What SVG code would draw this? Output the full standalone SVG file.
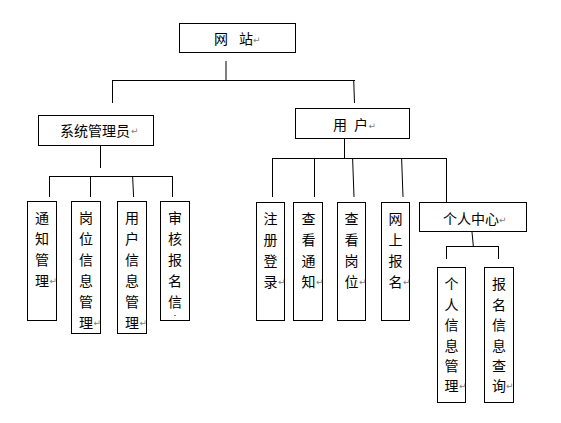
<svg xmlns="http://www.w3.org/2000/svg" width="561" height="423" viewBox="0 0 561 423">
<style>
.box{fill:#fff;stroke:#000;stroke-width:1}
.ln{stroke:#000;stroke-width:1;fill:none}
.t{font-family:"Noto Sans CJK SC","Noto Sans CJK JP",sans-serif;font-size:14px;fill:#000}
.v{text-anchor:middle}
.r{font-family:"DejaVu Sans",sans-serif;font-size:9px;fill:#808080}
</style>
<defs>
<clipPath id="clipAudit"><rect x="160" y="201" width="30" height="115"/></clipPath>
</defs>
<rect width="561" height="423" fill="#fff"/>
<g id="connectors">
<line class="ln" x1="226" y1="61" x2="226" y2="80"/>
<line class="ln" x1="112" y1="80.5" x2="355" y2="80.5"/>
<line class="ln" x1="112.5" y1="80" x2="112.5" y2="103"/>
<line class="ln" x1="353.7" y1="80" x2="354.5" y2="103"/>
<line class="ln" x1="100.5" y1="146" x2="100.5" y2="168"/>
<line class="ln" x1="49" y1="176.5" x2="173" y2="176.5"/>
<line class="ln" x1="49.5" y1="176" x2="49.5" y2="197"/>
<line class="ln" x1="90.5" y1="176" x2="90.5" y2="197"/>
<line class="ln" x1="132.6" y1="176" x2="133.6" y2="197"/>
<line class="ln" x1="172.5" y1="176" x2="172.5" y2="197"/>
<line class="ln" x1="344.5" y1="138" x2="344.5" y2="158"/>
<line class="ln" x1="272" y1="158.5" x2="447" y2="158.5"/>
<line class="ln" x1="272.5" y1="158" x2="272.5" y2="197"/>
<line class="ln" x1="314.5" y1="158" x2="314.5" y2="197"/>
<line class="ln" x1="352.6" y1="158" x2="354" y2="197"/>
<line class="ln" x1="401.6" y1="158" x2="403" y2="197"/>
<line class="ln" x1="446.5" y1="158" x2="446.5" y2="202"/>
<line class="ln" x1="472" y1="232" x2="473.3" y2="246"/>
<line class="ln" x1="446" y1="246.5" x2="499" y2="246.5"/>
<line class="ln" x1="446.5" y1="246" x2="446.5" y2="259"/>
<line class="ln" x1="498.5" y1="246" x2="498.5" y2="259"/>
</g>
<g id="site">
<rect class="box" x="179.5" y="23.5" width="116" height="29"/>
<text class="t" y="44"><tspan x="214">网</tspan><tspan x="239">站</tspan></text>
<text class="r" x="253" y="43">↵</text>
</g>
<g id="admin">
<rect class="box" x="38.5" y="115.5" width="115" height="30"/>
<text class="t" x="60" y="135.5">系统管理员</text>
<text class="r" x="131" y="134">↵</text>
</g>
<g id="user">
<rect class="box" x="295.5" y="108.5" width="114" height="30"/>
<text class="t" y="130"><tspan x="333">用</tspan><tspan x="354">户</tspan></text>
<text class="r" x="368.5" y="129">↵</text>
</g>
<g id="notice-mgmt">
<rect class="box" x="27.5" y="201.5" width="29" height="119"/>
<text class="t v"><tspan x="42" y="223">通</tspan><tspan x="42" y="244">知</tspan><tspan x="42" y="265">管</tspan><tspan x="42" y="286">理</tspan></text>
<text class="r" x="49.5" y="284">↵</text>
</g>
<g id="post-mgmt">
<rect class="box" x="71.5" y="201.5" width="29" height="132"/>
<text class="t v"><tspan x="86" y="223">岗</tspan><tspan x="86" y="244">位</tspan><tspan x="86" y="265">信</tspan><tspan x="86" y="286">息</tspan><tspan x="86" y="307">管</tspan><tspan x="86" y="328">理</tspan></text>
<text class="r" x="93.5" y="326">↵</text>
</g>
<g id="userinfo-mgmt">
<rect class="box" x="117.5" y="201.5" width="29" height="132"/>
<text class="t v"><tspan x="132" y="223">用</tspan><tspan x="132" y="244">户</tspan><tspan x="132" y="265">信</tspan><tspan x="132" y="286">息</tspan><tspan x="132" y="307">管</tspan><tspan x="132" y="328">理</tspan></text>
<text class="r" x="139.5" y="326">↵</text>
</g>
<g id="audit">
<rect class="box" x="160.5" y="201.5" width="29" height="119"/>
<text class="t v"><tspan x="175" y="223">审</tspan><tspan x="175" y="244">核</tspan><tspan x="175" y="265">报</tspan><tspan x="175" y="286">名</tspan><tspan x="175" y="307">信</tspan></text>
<text class="t v" clip-path="url(#clipAudit)" x="175" y="327">息</text>
</g>
<g id="register">
<rect class="box" x="256.5" y="202.5" width="28" height="118"/>
<text class="t v"><tspan x="270.5" y="224">注</tspan><tspan x="270.5" y="245">册</tspan><tspan x="270.5" y="266">登</tspan><tspan x="270.5" y="287">录</tspan></text>
<text class="r" x="278" y="285">↵</text>
</g>
<g id="view-notice">
<rect class="box" x="293.5" y="202.5" width="29" height="118"/>
<text class="t v"><tspan x="308.5" y="224">查</tspan><tspan x="308.5" y="245">看</tspan><tspan x="308.5" y="266">通</tspan><tspan x="308.5" y="287">知</tspan></text>
<text class="r" x="316" y="285">↵</text>
</g>
<g id="view-post">
<rect class="box" x="337.5" y="202.5" width="28" height="118"/>
<text class="t v"><tspan x="351.5" y="224">查</tspan><tspan x="351.5" y="245">看</tspan><tspan x="351.5" y="266">岗</tspan><tspan x="351.5" y="287">位</tspan></text>
<text class="r" x="359" y="285">↵</text>
</g>
<g id="apply">
<rect class="box" x="381.5" y="202.5" width="28" height="118"/>
<text class="t v"><tspan x="395.5" y="224">网</tspan><tspan x="395.5" y="245">上</tspan><tspan x="395.5" y="266">报</tspan><tspan x="395.5" y="287">名</tspan></text>
<text class="r" x="403" y="285">↵</text>
</g>
<g id="center">
<rect class="box" x="419.5" y="202.5" width="107" height="29"/>
<text class="t" x="443" y="224">个人中心</text>
<text class="r" x="499" y="223">↵</text>
</g>
<g id="personal-info">
<rect class="box" x="437.5" y="267.5" width="28" height="135"/>
<text class="t v"><tspan x="451.5" y="289">个</tspan><tspan x="451.5" y="309.5">人</tspan><tspan x="451.5" y="330">信</tspan><tspan x="451.5" y="350.5">息</tspan><tspan x="451.5" y="371">管</tspan><tspan x="451.5" y="391">理</tspan></text>
<text class="r" x="459" y="389">↵</text>
</g>
<g id="apply-query">
<rect class="box" x="484.5" y="267.5" width="29" height="135"/>
<text class="t v"><tspan x="499" y="289">报</tspan><tspan x="499" y="309.5">名</tspan><tspan x="499" y="330">信</tspan><tspan x="499" y="350.5">息</tspan><tspan x="499" y="371">查</tspan><tspan x="499" y="391">询</tspan></text>
<text class="r" x="506" y="389">↵</text>
</g>
</svg>
